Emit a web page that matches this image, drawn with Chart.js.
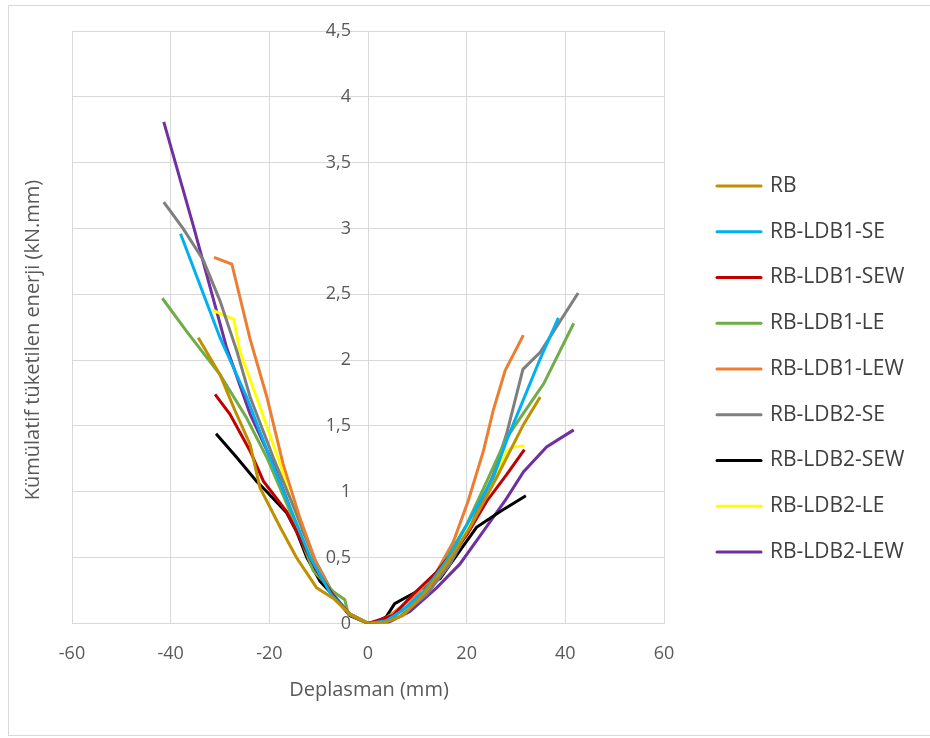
<!DOCTYPE html>
<html>
<head>
<meta charset="utf-8">
<title>Kümülatif tüketilen enerji</title>
<script src="https://cdn.jsdelivr.net/npm/chart.js"></script>
<style>
    body { margin: 0; background: #fff; }
    #kutu { position: absolute; left: 8px; top: 5px; width: 921px; height: 729px; border: 1px solid #d9d9d9; }
</style>
</head>
<body>
<div id="kutu"><canvas id="enerji"></canvas></div>

<script>
    // Deplasman (mm) / kümülatif enerji (kN.mm) okumaları, soldan sağa
    var rbX = [-34.4, -30, -27, -23.9, -21.9, -17.8, -14.5, -10.4, -7, -3.7, 0, 3.7, 7.1, 11.2, 15.9, 20.7, 26.1, 28.8, 31.5, 34.9];
    var rbY = [2.17, 1.89, 1.62, 1.36, 1.03, 0.73, 0.50, 0.27, 0.19, 0.07, 0, 0.01, 0.06, 0.22, 0.45, 0.73, 1.11, 1.31, 1.51, 1.72];

    var ldb1SeX = [-38, -30, -24.6, -19.9, -15.8, -11.7, -7.5, -3.7, 0, 3.7, 7, 11.5, 16, 20.5, 25.4, 28.1, 31.5, 34.9, 38.6];
    var ldb1SeY = [2.96, 2.17, 1.72, 1.26, 0.88, 0.50, 0.22, 0.07, 0, 0.02, 0.10, 0.25, 0.48, 0.78, 1.11, 1.39, 1.70, 2.01, 2.32];

    var ldb1SewX = [-31, -28, -23.9, -21.2, -16.5, -14.5, -10.4, -7, -3.7, 0, 5.1, 9.1, 13.9, 20, 24.1, 28.1, 31.7];
    var ldb1SewY = [1.74, 1.59, 1.31, 1.08, 0.85, 0.70, 0.40, 0.21, 0.07, 0, 0.06, 0.22, 0.39, 0.67, 0.93, 1.13, 1.32];

    var ldb1LeX = [-41.7, -36.8, -30, -24.6, -20.5, -15.8, -11.1, -7, -4.7, -4, 0, 4, 10.5, 15.2, 20, 24.1, 28.1, 35.6, 41.7];
    var ldb1LeY = [2.47, 2.22, 1.89, 1.56, 1.26, 0.85, 0.40, 0.24, 0.18, 0.07, 0, 0.03, 0.19, 0.45, 0.75, 1.08, 1.41, 1.82, 2.28];

    var ldb1LewX = [-31.2, -27.6, -23.9, -20.5, -17.2, -13.8, -10.4, -7, -3.7, 0, 2.4, 5.1, 9.8, 13.9, 17.3, 20.3, 23.4, 25.4, 27.8, 31.5];
    var ldb1LewY = [2.78, 2.73, 2.16, 1.72, 1.21, 0.80, 0.45, 0.21, 0.07, 0, 0.01, 0.08, 0.22, 0.39, 0.62, 0.93, 1.31, 1.62, 1.92, 2.19];

    var ldb2SeX = [-41.4, -37.5, -33.4, -30, -26.6, -23.9, -19.2, -15, -11, -7, -3.7, 0, 6.4, 11.9, 16.6, 20.7, 25.4, 28.1, 31.4, 34.9, 42.6];
    var ldb2SeY = [3.20, 3.00, 2.76, 2.45, 2.07, 1.72, 1.26, 0.88, 0.50, 0.22, 0.07, 0, 0.05, 0.22, 0.45, 0.73, 1.13, 1.44, 1.93, 2.06, 2.51];

    var ldb2SewX = [-30.8, -26.6, -22.6, -20.5, -16.5, -14.5, -12.4, -9.7, -7, -3.7, 0, 1.7, 3.7, 5.4, 9.8, 14.6, 18.6, 22, 26.8, 32];
    var ldb2SewY = [1.44, 1.26, 1.08, 1.00, 0.84, 0.70, 0.50, 0.32, 0.21, 0.06, 0, 0.01, 0.05, 0.15, 0.24, 0.34, 0.55, 0.73, 0.85, 0.97];

    var ldb2LeX = [-31.5, -29.7, -27.2, -26, -22.6, -17.8, -13.8, -9.7, -7, -3.7, 0, 5.1, 9.8, 15.9, 21.3, 25.4, 28.1, 29.5, 31.7];
    var ldb2LeY = [2.38, 2.35, 2.31, 2.07, 1.72, 1.21, 0.70, 0.35, 0.20, 0.07, 0, 0.04, 0.17, 0.45, 0.78, 1.08, 1.31, 1.34, 1.35];

    var ldb2LewX = [-41.4, -35.4, -28.7, -23.9, -19.2, -15.8, -12.4, -9.7, -7, -3.7, 0, 3.7, 8.5, 13.9, 18.6, 23.4, 28.1, 31.5, 36.2, 41.7];
    var ldb2LewY = [3.81, 3.02, 2.10, 1.59, 1.21, 0.88, 0.60, 0.37, 0.21, 0.07, 0, 0, 0.09, 0.27, 0.45, 0.70, 0.95, 1.15, 1.34, 1.47];

    var seriler = ['RB', 'RB-LDB1-SE', 'RB-LDB1-SEW', 'RB-LDB1-LE', 'RB-LDB1-LEW', 'RB-LDB2-SE', 'RB-LDB2-SEW', 'RB-LDB2-LE', 'RB-LDB2-LEW'];
    var renkler = ['#bf9000', '#00b0f0', '#c00000', '#70ad47', '#ed7d31', '#7f7f7f', '#000000', '#ffff00', '#7030a0'];
    var xler = [rbX, ldb1SeX, ldb1SewX, ldb1LeX, ldb1LewX, ldb2SeX, ldb2SewX, ldb2LeX, ldb2LewX];
    var yler = [rbY, ldb1SeY, ldb1SewY, ldb1LeY, ldb1LewY, ldb2SeY, ldb2SewY, ldb2LeY, ldb2LewY];

    var yazi = '"Open Sans", sans-serif';

    function noktalar(xs, ys) {
        return xs.map(function(x, i) { return { x: x, y: ys[i] }; });
    }

    var datasets = seriler.map(function(ad, i) {
        return {
            label: ad,
            data: noktalar(xler[i], yler[i]),
            borderColor: renkler[i],
            backgroundColor: renkler[i],
            borderWidth: 3,
            pointRadius: 0,
            showLine: true,
            tension: 0
        };
    });

    // eksen başlıkları ve ortadaki y ekseninin etiketleri
    var eksenYazilari = {
        id: 'eksenYazilari',
        afterDraw: function(chart) {
            var ctx = chart.ctx;
            var sx = chart.scales.x, sy = chart.scales.y;
            var x0 = sx.getPixelForValue(0);
            ctx.save();
            ctx.fillStyle = '#595959';
            ctx.font = '18px ' + yazi;
            ctx.textAlign = 'right';
            ctx.textBaseline = 'middle';
            sy.ticks.forEach(function(t) {
                ctx.fillText(String(t.value).replace('.', ','), x0 - 17, sy.getPixelForValue(t.value));
            });
            ctx.font = '20px ' + yazi;
            ctx.textAlign = 'center';
            ctx.fillText('Deplasman (mm)', 360, 684);
            ctx.translate(24, 334);
            ctx.rotate(-Math.PI / 2);
            ctx.fillText('Kümülatif tüketilen enerji (kN.mm)', 0, 0);
            ctx.restore();
        }
    };

    // sağdaki seri listesi
    var lejant = {
        id: 'lejant',
        afterDraw: function(chart) {
            var ctx = chart.ctx;
            ctx.save();
            ctx.font = '21px ' + yazi;
            ctx.textBaseline = 'middle';
            chart.data.datasets.forEach(function(ds, i) {
                var y = 180 + i * 45.75;
                ctx.strokeStyle = ds.borderColor;
                ctx.lineWidth = 3;
                ctx.lineCap = 'round';
                ctx.beginPath();
                ctx.moveTo(708, y);
                ctx.lineTo(752, y);
                ctx.stroke();
                ctx.fillStyle = '#404040';
                ctx.fillText(ds.label, 761, y);
            });
            ctx.restore();
        }
    };

    new Chart(document.getElementById('enerji'), {
        type: 'scatter',
        data: { datasets: datasets },
        options: {
            responsive: true,
            maintainAspectRatio: false,
            animation: false,
            layout: { padding: { left: 63, top: 25, right: 266, bottom: 50 } },
            plugins: {
                legend: { display: false },
                tooltip: { enabled: false }
            },
            scales: {
                x: {
                    type: 'linear',
                    min: -60,
                    max: 60,
                    ticks: {
                        stepSize: 20,
                        padding: 20,
                        color: '#595959',
                        font: { family: yazi, size: 18 }
                    },
                    grid: { color: '#d9d9d9', drawTicks: false },
                    border: { color: '#d9d9d9' }
                },
                y: {
                    type: 'linear',
                    position: { x: 0 },
                    min: 0,
                    max: 4.5,
                    ticks: { stepSize: 0.5, display: false },
                    grid: { color: '#d9d9d9', drawTicks: false },
                    border: { color: '#d9d9d9' }
                }
            }
        },
        plugins: [eksenYazilari, lejant]
    });
</script>
</body>
</html>
